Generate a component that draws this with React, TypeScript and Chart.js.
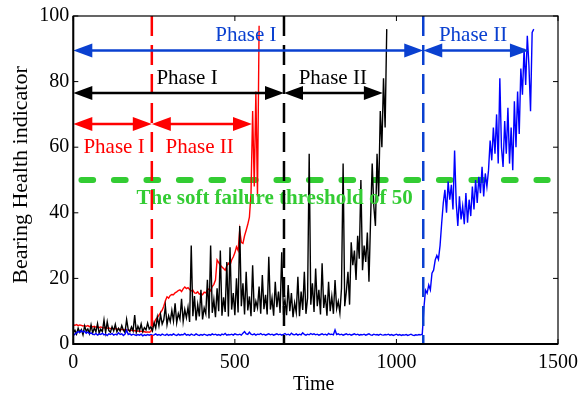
import React, { useEffect, useRef } from "react";
import { Chart, registerables } from "chart.js";

Chart.register(...registerables);

// ---------------- data ----------------
const TIME_STEP = 5; // sampling interval of every series (time units)

const redHI = [
  5.8, 5.7, 5.9, 5.6, 5.8, 5.7, 5.5, 5.6, 5.4, 5.6,
  5.3, 5.5, 5.2, 5.4, 5.1, 5.3, 5.0, 5.2, 5.0, 4.9,
  5.1, 4.8, 4.9, 4.7, 4.8, 4.6, 4.7, 4.5, 4.6, 4.4,
  4.5, 4.3, 4.4, 4.2, 4.3, 4.1, 4.2, 4.0, 4.1, 3.9,
  4.0, 3.8, 3.9, 3.7, 3.8, 3.6, 3.7, 3.6, 3.8,
  5.5, 6.2, 7.5, 8.0, 8.8, 9.6, 10.3, 11.5, 13.2, 14.4,
  14.0, 14.8, 15.1, 15.0, 15.6, 15.9, 16.3, 16.5, 16.0, 16.8,
  17.4, 16.9, 17.2, 16.6, 16.2, 16.4, 15.6, 15.5, 15.9, 15.2,
  15.4, 15.0, 15.8, 15.6, 16.4, 16.8, 16.2, 17.5, 18.2, 19.5,
  25.6, 24.8, 24.0, 23.5, 23.0, 22.5, 23.8, 24.6, 24.0, 25.6,
  26.5, 27.8, 29.6, 28.5, 34.7, 31.0, 30.7, 33.0, 34.7, 36.5,
  38.7, 46.0, 71.0, 48.0, 77.0, 45.0, 97.0,
];

const blackHI = [
  3.5, 4.2, 3.0, 4.8, 3.6, 4.4, 2.8, 5.5, 3.9, 4.6,
  3.2, 5.8, 3.4, 4.9, 3.7, 6.2, 3.3, 4.5, 3.8, 7.3,
  3.5, 6.8, 4.1, 3.6, 5.3, 4.0, 6.0, 3.7, 4.8, 3.9,
  5.6, 4.2, 3.5, 7.5, 4.4, 3.8, 5.2, 4.0, 8.8, 3.6,
  5.4, 4.1, 6.1, 3.8, 5.0, 4.3, 6.4, 4.6, 5.2, 4.0,
  6.5, 4.8, 8.2, 5.5, 9.0, 6.1, 7.4, 11.5, 5.9, 8.6,
  6.8, 10.2, 7.0, 12.4, 6.5, 9.3, 7.6, 13.8, 6.9, 10.5,
  8.0, 11.2, 6.7, 30.0, 8.5, 14.6, 7.2, 12.0, 8.4, 16.5,
  7.5, 11.0, 9.2, 19.6, 7.8, 30.0, 9.5, 13.5, 8.2, 17.0,
  10.0, 28.5, 8.6, 14.2, 9.8, 25.0, 8.4, 29.5, 10.5, 15.5,
  8.8, 20.0, 9.6, 36.0, 11.5, 18.5, 9.0, 22.0, 10.2, 14.5,
  8.5, 24.0, 9.8, 13.0, 11.0, 17.5, 9.2, 21.0, 10.6, 15.0,
  9.0, 26.6, 10.5, 14.0, 8.6, 19.0, 11.2, 16.0, 9.5, 28.0,
  10.8, 13.5, 8.8, 18.0, 10.0, 15.5, 8.2, 12.5, 9.6, 20.5,
  8.5, 16.0, 10.4, 22.0, 9.2, 14.0, 58.0, 12.0, 18.5, 9.8,
  23.0, 11.5, 16.5, 9.0, 24.6, 11.0, 15.0, 8.6, 19.0, 10.0,
  14.5, 9.2, 19.5, 10.8, 13.0, 9.5, 17.0, 55.0, 11.5, 16.0,
  22.0, 12.0, 31.0, 24.0, 28.5, 19.5, 33.0, 26.0, 50.0, 22.5,
  30.0, 25.0, 34.0, 19.0, 38.0, 55.0, 42.0, 36.0, 58.0, 45.0,
  71.0, 60.0, 81.0, 66.0, 96.0,
];

const blueHI = [
  2.6, 3.0, 3.4, 3.8, 3.5, 4.1, 3.6, 3.9, 3.3, 3.7, 3.1, 3.4,
  3.0, 2.8, 3.2, 2.7, 3.1, 2.9, 3.3, 2.8, 3.0, 2.6, 3.1, 2.9,
  3.2, 2.7, 3.0, 2.8, 3.4, 2.9, 3.1, 2.6, 3.0, 4.2, 2.9, 3.1,
  2.7, 3.0, 2.8, 2.6, 2.9, 2.7, 3.0, 2.5, 2.8, 2.6, 2.9, 2.7,
  2.9, 2.6, 2.8, 3.1, 2.7, 2.9, 2.6, 3.0, 2.8, 2.7, 3.0, 2.6,
  2.9, 2.7, 3.1, 2.8, 2.6, 3.0, 2.7, 2.9, 2.8, 3.2, 2.7, 2.9,
  2.6, 3.0, 2.8, 2.7, 3.1, 2.8, 2.6, 2.9, 2.7, 3.0, 2.8, 2.6,
  2.9, 2.7, 3.1, 2.8, 3.0, 2.7, 2.9, 2.6, 3.0, 2.8, 3.2, 2.7,
  2.9, 2.8, 3.0, 2.7, 3.1, 2.9, 2.8, 3.0, 2.7, 3.3, 3.8, 3.1,
  2.9, 3.6, 3.0, 2.8, 3.1, 2.7, 3.0, 2.9, 3.2, 2.8, 3.0, 2.7,
  2.9, 3.1, 2.8, 3.0, 2.7, 2.9, 3.1, 2.8, 3.0, 2.7, 2.9, 3.2,
  2.8, 3.0, 2.7, 3.3, 2.9, 2.8, 3.1, 2.7, 3.0, 2.8, 3.4, 2.9,
  2.7, 3.0, 2.8, 3.2, 2.9, 3.1, 2.8, 3.0, 2.7, 2.9, 3.1, 2.8,
  3.0, 2.7, 3.2, 2.9, 3.0, 2.8, 4.3, 2.9, 3.1, 2.8, 3.0, 2.7,
  2.9, 3.1, 2.8, 3.0, 2.7, 2.9, 3.1, 2.8, 3.0, 2.7, 2.9, 2.8,
  3.0, 2.7, 2.9, 3.1, 2.8, 2.7, 3.0, 2.8, 2.9, 2.7, 3.0, 2.8,
  2.7, 2.9, 2.8, 3.0, 2.7, 2.9, 2.6, 2.8, 3.0, 2.7, 2.9, 2.6,
  2.8, 2.7, 2.9, 2.6, 2.8, 3.0, 2.7, 2.6, 2.8, 2.7, 2.9, 2.8,
  3.0, 11.0, 16.4, 15.5, 18.0, 16.5, 21.6, 22.5, 25.6, 27.0,
  25.8, 30.0, 36.8, 43.0, 47.0, 40.0, 49.5, 44.0, 48.5, 41.0,
  59.0, 43.0, 36.0, 45.0, 38.0, 42.0, 36.5, 46.0, 37.0, 44.0,
  39.0, 48.0, 41.0, 50.0, 43.0, 51.0, 46.0, 54.0, 45.0, 52.0,
  48.0, 53.0, 62.0, 56.0, 66.0, 58.0, 70.0, 55.0, 81.0, 60.0,
  54.0, 68.0, 58.0, 72.0, 55.0, 66.0, 53.0, 74.0, 60.0, 77.0,
  64.0, 84.0, 76.0, 90.0, 79.0, 94.0, 85.0, 71.0, 95.0, 96.0,
];

const xTicks = [0, 500, 1000, 1500];
const yTicks = [0, 20, 40, 60, 80, 100];

// phase annotations, one entry per series: red, black, blue
const phaseBoundary = [243, 652, 1083];
const phaseIIEnd = [553, 958, 1410];
const arrowLevel = [67.1, 76.5, 89.45];
const phaseICenter = [126, 352, 534];
const phaseIICenter = [391, 803, 1237];
const labelLevel = [58.1, 79.4, 92.3];
const phaseNames = ["Phase I", "Phase II"];

const threshold = 50;
const thresholdSpan = [25.2, 1468];
const thresholdLabel = "The soft failure threshold of 50";
const thresholdLabelAt = [623, 42.7];

const xTitle = "Time";
const yTitle = "Bearing Health indicator";

// ---------------- style ----------------
const FONT = "'Liberation Serif', 'Times New Roman', serif";
const annoColors = ["#ff0000", "#000000", "#0a40d0"];
const GREEN = "#33cc33";

const toPoints = (arr: number[]) => arr.map((v, i) => ({ x: i * TIME_STEP, y: v }));

const annotate = {
  id: "annotate",
  beforeDatasetsDraw(chart: any) {
    const { ctx, chartArea, scales } = chart;
    const { left, right, top, bottom } = chartArea;
    const x = scales.x, y = scales.y;
    ctx.save();
    ctx.beginPath();
    ctx.rect(left, top, right - left, bottom - top);
    ctx.clip();
    ctx.strokeStyle = GREEN;
    ctx.lineWidth = 6;
    ctx.lineCap = "round";
    ctx.setLineDash([11.7, 20.8]);
    const yp = y.getPixelForValue(threshold);
    ctx.beginPath();
    ctx.moveTo(x.getPixelForValue(thresholdSpan[0]), yp);
    ctx.lineTo(x.getPixelForValue(thresholdSpan[1]), yp);
    ctx.stroke();
    ctx.restore();
  },
  afterDatasetsDraw(chart: any) {
    const { ctx, chartArea, scales } = chart;
    const { left, right, top, bottom } = chartArea;
    const x = scales.x, y = scales.y;
    ctx.save();

    // threshold label
    ctx.fillStyle = GREEN;
    ctx.font = `bold 21px ${FONT}`;
    ctx.textAlign = "center";
    ctx.textBaseline = "alphabetic";
    ctx.fillText(thresholdLabel, x.getPixelForValue(thresholdLabelAt[0]), y.getPixelForValue(thresholdLabelAt[1]));

    // phase boundaries
    ctx.lineWidth = 2.5;
    ctx.setLineDash([20, 9]);
    ctx.lineCap = "butt";
    phaseBoundary.forEach((t, i) => {
      const px = x.getPixelForValue(t);
      ctx.strokeStyle = annoColors[i];
      ctx.beginPath();
      ctx.moveTo(px, top);
      ctx.lineTo(px, bottom);
      ctx.stroke();
    });
    ctx.setLineDash([]);

    const HL = 19, HW = 7;
    const arrow = (x1: number, x2: number, yy: number, col: string) => {
      ctx.strokeStyle = col;
      ctx.fillStyle = col;
      ctx.lineWidth = 2.5;
      ctx.beginPath();
      ctx.moveTo(x1 + HL - 2, yy);
      ctx.lineTo(x2 - HL + 2, yy);
      ctx.stroke();
      ctx.beginPath();
      ctx.moveTo(x1, yy);
      ctx.lineTo(x1 + HL, yy - HW);
      ctx.lineTo(x1 + HL, yy + HW);
      ctx.closePath();
      ctx.fill();
      ctx.beginPath();
      ctx.moveTo(x2, yy);
      ctx.lineTo(x2 - HL, yy - HW);
      ctx.lineTo(x2 - HL, yy + HW);
      ctx.closePath();
      ctx.fill();
    };

    ctx.font = `21px ${FONT}`;
    ctx.textAlign = "center";
    phaseBoundary.forEach((t, i) => {
      const col = annoColors[i];
      const yy = y.getPixelForValue(arrowLevel[i]);
      arrow(x.getPixelForValue(0), x.getPixelForValue(t), yy, col);
      arrow(x.getPixelForValue(t), x.getPixelForValue(phaseIIEnd[i]), yy, col);
      ctx.fillStyle = col;
      const ly = y.getPixelForValue(labelLevel[i]);
      ctx.fillText(phaseNames[0], x.getPixelForValue(phaseICenter[i]), ly);
      ctx.fillText(phaseNames[1], x.getPixelForValue(phaseIICenter[i]), ly);
    });

    // frame
    ctx.strokeStyle = "#000";
    ctx.lineWidth = 1.2;
    ctx.strokeRect(left, top, right - left, bottom - top);
    ctx.lineWidth = 2;
    ctx.beginPath();
    ctx.moveTo(left, top);
    ctx.lineTo(left, bottom);
    ctx.lineTo(right, bottom);
    ctx.stroke();

    // inward ticks
    ctx.lineWidth = 1;
    const TL = 5;
    xTicks.forEach((t) => {
      const px = x.getPixelForValue(t);
      ctx.beginPath();
      ctx.moveTo(px, bottom);
      ctx.lineTo(px, bottom - TL);
      ctx.moveTo(px, top);
      ctx.lineTo(px, top + TL);
      ctx.stroke();
    });
    yTicks.forEach((v) => {
      const py = y.getPixelForValue(v);
      ctx.beginPath();
      ctx.moveTo(left, py);
      ctx.lineTo(left + TL, py);
      ctx.moveTo(right, py);
      ctx.lineTo(right - TL, py);
      ctx.stroke();
    });

    // axis titles
    ctx.fillStyle = "#000";
    ctx.font = `20px ${FONT}`;
    ctx.textAlign = "center";
    ctx.textBaseline = "alphabetic";
    ctx.fillText(xTitle, (left + right) / 2 - 2, 390);
    ctx.save();
    ctx.translate(27, 175);
    ctx.rotate(-Math.PI / 2);
    ctx.font = `22px ${FONT}`;
    ctx.fillText(yTitle, 0, 0);
    ctx.restore();

    ctx.restore();
  },
};

export default function App() {
  const ref = useRef<HTMLCanvasElement | null>(null);
  useEffect(() => {
    document.body.style.margin = "0";
    const canvas = ref.current;
    if (!canvas) return;
    const chart = new Chart(canvas, {
      type: "line",
      data: {
        datasets: [
          { data: toPoints(redHI), borderColor: "#ff0000", borderWidth: 1.4, order: 3 },
          { data: toPoints(blackHI), borderColor: "#000000", borderWidth: 1.4, order: 2 },
          { data: toPoints(blueHI), borderColor: "#0000ff", borderWidth: 1.4, order: 1 },
        ],
      },
      options: {
        animation: false,
        responsive: false,
        maintainAspectRatio: false,
        devicePixelRatio: 1,
        layout: { autoPadding: false, padding: { left: 0, right: 24.4, top: 15, bottom: 0 } },
        plugins: { legend: { display: false }, tooltip: { enabled: false } },
        elements: { point: { radius: 0 }, line: { tension: 0 } },
        scales: {
          x: {
            type: "linear",
            min: 0,
            max: 1500,
            afterFit: (s: any) => { s.height = 51; },
            afterBuildTicks: (s: any) => { s.ticks = xTicks.map((v) => ({ value: v })); },
            grid: { display: false, drawTicks: false },
            border: { display: false },
            ticks: {
              font: { family: FONT, size: 20 }, color: "#000", padding: 7, maxRotation: 0, autoSkip: false,
              callback: (v: any) => String(v),
            },
          },
          y: {
            type: "linear",
            min: 0,
            max: 100,
            afterFit: (s: any) => { s.width = 73.3; },
            afterBuildTicks: (s: any) => { s.ticks = yTicks.map((v) => ({ value: v })); },
            grid: { display: false, drawTicks: false },
            border: { display: false },
            ticks: {
              font: { family: FONT, size: 20 }, color: "#000", padding: 4, autoSkip: false,
              callback: (v: any) => String(v),
            },
          },
        },
      },
      plugins: [annotate],
    } as any);
    return () => chart.destroy();
  }, []);
  return (
    <div style={{ position: "absolute", left: 0, top: 0, width: 585, height: 395, background: "#fff" }}>
      <canvas ref={ref} width={585} height={395} style={{ width: 585, height: 395, display: "block" }} />
    </div>
  );
}
